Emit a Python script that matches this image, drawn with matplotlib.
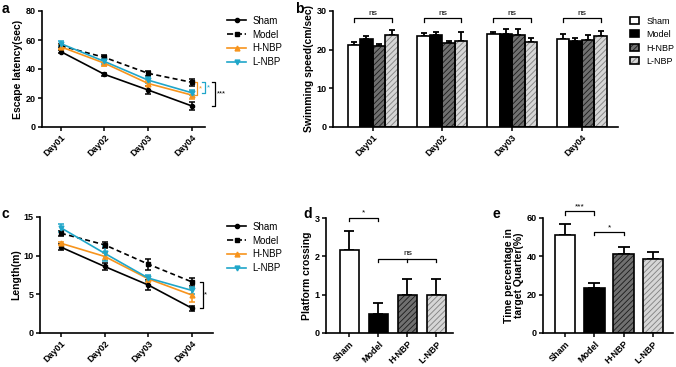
#!/usr/bin/env python3

import matplotlib

matplotlib.use("Agg")
import matplotlib.pyplot as plt
import numpy as np
from matplotlib.lines import Line2D
from matplotlib.patches import Patch

groups = ["Sham", "Model", "H-NBP", "L-NBP"]
days = ["Day01", "Day02", "Day03", "Day04"]

# a: escape latency (sec)
lat_mean = {
    "Sham": [52.0, 36.3, 25.5, 14.5],
    "Model": [56.0, 48.0, 37.0, 30.8],
    "H-NBP": [55.3, 44.0, 30.0, 22.0],
    "L-NBP": [57.5, 45.2, 32.3, 23.6],
}
lat_err = {
    "Sham": [1.2, 1.2, 2.8, 2.5],
    "Model": [1.0, 1.5, 1.8, 2.2],
    "H-NBP": [1.5, 2.0, 2.0, 2.5],
    "L-NBP": [1.5, 2.0, 2.0, 1.8],
}

# b: swimming speed (cm/sec)
speed_mean = {
    "Sham": [21.3, 23.6, 24.0, 22.7],
    "Model": [22.8, 23.9, 24.0, 22.2],
    "H-NBP": [21.0, 21.7, 23.8, 22.5],
    "L-NBP": [23.8, 22.3, 21.9, 23.6],
}
speed_err = {
    "Sham": [0.8, 0.6, 0.6, 1.4],
    "Model": [0.8, 0.7, 1.3, 0.8],
    "H-NBP": [0.4, 0.5, 1.5, 1.2],
    "L-NBP": [1.2, 2.2, 1.0, 1.2],
}

# c: path length (m)
len_mean = {
    "Sham": [11.1, 8.6, 6.2, 3.2],
    "Model": [12.9, 11.4, 8.9, 6.6],
    "H-NBP": [11.6, 9.9, 7.0, 4.9],
    "L-NBP": [13.6, 10.3, 7.1, 5.5],
}
len_err = {
    "Sham": [0.4, 0.4, 0.7, 0.35],
    "Model": [0.3, 0.4, 0.7, 0.5],
    "H-NBP": [0.2, 0.5, 0.4, 0.9],
    "L-NBP": [0.5, 1.0, 0.4, 0.5],
}

# d: platform crossing
cross_mean = [2.17, 0.5, 1.0, 1.0]
cross_err = [0.48, 0.27, 0.42, 0.42]

# e: time in target quarter (%)
quarter_mean = [51.0, 23.3, 41.2, 38.6]
quarter_err = [5.9, 2.8, 3.7, 3.7]

line_style = {
    "Sham": dict(color="black", ls="-", marker="o", ms=3),
    "Model": dict(color="black", ls="--", marker="s", ms=3),
    "H-NBP": dict(color="#f7941d", ls="-", marker="^", ms=3.5),
    "L-NBP": dict(color="#1fa6c9", ls="-", marker="v", ms=3.5),
}
bar_style = {
    "Sham": dict(face="white", hatch=None, hcol=None),
    "Model": dict(face="black", hatch=None, hcol=None),
    "H-NBP": dict(face="#707070", hatch="//////", hcol="#1a1a1a"),
    "L-NBP": dict(face="#d6d6d6", hatch="//////", hcol="#808080"),
}

W, H = 676, 367
FONT = ["Liberation Sans", "DejaVu Sans"]


def px_axes(fig, left, right, top, bottom):
    return fig.add_axes([left / W, 1 - bottom / H, (right - left) / W, (bottom - top) / H])


def style_axes(ax):
    for s in ["top", "right"]:
        ax.spines[s].set_visible(False)
    for s in ["left", "bottom"]:
        ax.spines[s].set_linewidth(1.2)
    ax.tick_params(width=1.1, length=3, labelsize=6.5, pad=1.5)
    for lab in ax.get_yticklabels() + ax.get_xticklabels():
        lab.set_fontweight("bold")


def draw_bar(ax, x, h, err, width, name, cap):
    st = bar_style[name]
    if st["hatch"]:
        ax.bar(x, h, width, color=st["face"], hatch=st["hatch"], edgecolor=st["hcol"], lw=0, zorder=2)
        ax.bar(x, h, width, fill=False, edgecolor="black", lw=1.2, zorder=3)
    else:
        ax.bar(x, h, width, color=st["face"], edgecolor="black", lw=1.2, zorder=3)
    ax.errorbar(x, h, yerr=[[0], [err]], fmt="none", ecolor="black", elinewidth=1.3,
                capsize=cap, capthick=1.3, zorder=1)


def bracket(ax, x1, x2, y, drop, text, color="black", mids=(), fs=6):
    ax.plot([x1, x1, x2, x2], [y - drop, y, y, y - drop], color=color, lw=0.9, clip_on=False)
    for m in mids:
        ax.plot([m, m], [y, y - drop], color=color, lw=0.9, clip_on=False)
    ax.text((x1 + x2) / 2, y + drop * 0.4, text, ha="center", va="bottom", fontsize=fs,
            color=color, clip_on=False)


def vbracket(ax, x, y1, y2, w, text, color="black"):
    ax.plot([x - w, x, x, x - w], [y1, y1, y2, y2], color=color, lw=0.9, clip_on=False)
    ax.text(x + w * 0.6, (y1 + y2) / 2, text, ha="left", va="center", fontsize=5.5,
            color=color, clip_on=False)


def line_panel(ax, means, errs, ylim, yticks, ylabel):
    x = np.arange(len(days))
    for name in groups:
        st = line_style[name]
        ax.errorbar(x, means[name], yerr=errs[name], color=st["color"], ls=st["ls"],
                    marker=st["marker"], ms=st["ms"], lw=1.2, elinewidth=1.1,
                    capsize=2.5, capthick=1.1, dashes=(3, 2) if st["ls"] == "--" else (None, None))
    ax.set_ylim(*ylim)
    ax.set_yticks(yticks)
    ax.set_xticks(x)
    ax.set_xticklabels(days, rotation=45, ha="right", rotation_mode="anchor")
    ax.set_ylabel(ylabel, fontsize=7.5, fontweight="bold", labelpad=2)
    style_axes(ax)


def main():
    plt.rcParams["font.family"] = FONT
    plt.rcParams["hatch.linewidth"] = 0.6
    fig = plt.figure(figsize=(W / 100, H / 100), dpi=100)

    # --- a
    ax = px_axes(fig, 42, 205, 11, 127)
    line_panel(ax, lat_mean, lat_err, (0, 80), [0, 20, 40, 60, 80], "Escape latency(sec)")
    ax.set_xlim(-0.43, 3.3)
    vbracket(ax, 3.12, lat_mean["Model"][3], lat_mean["H-NBP"][3], 0.06, "*", "#f7941d")
    vbracket(ax, 3.3, lat_mean["Model"][3], lat_mean["L-NBP"][3], 0.06, "*", "#1fa6c9")
    vbracket(ax, 3.53, lat_mean["Model"][3], lat_mean["Sham"][3], 0.06, "***", "black")
    handles = [Line2D([], [], color=line_style[n]["color"], ls=line_style[n]["ls"],
                      marker=line_style[n]["marker"], ms=line_style[n]["ms"], lw=1.2) for n in groups]
    fig.legend(handles, groups, loc="upper left", bbox_to_anchor=(222 / W, 1 - 11 / H),
               frameon=False, fontsize=7, handlelength=2.0, handletextpad=0.6,
               labelspacing=0.38, borderpad=0)

    # --- b
    ax = px_axes(fig, 333, 618, 11, 127)
    x = np.arange(len(days))
    bw = 0.18
    for i, name in enumerate(groups):
        for j in range(len(days)):
            draw_bar(ax, x[j] + (i - 1.5) * bw, speed_mean[name][j], speed_err[name][j], bw, name, 2.5)
    for j in range(len(days)):
        bracket(ax, x[j] - 1.5 * bw, x[j] + 1.5 * bw, 28.1, 0.9, "ns", fs=6)
    ax.set_xlim(-0.57, 3.52)
    ax.set_ylim(0, 30)
    ax.set_yticks([0, 10, 20, 30])
    ax.set_xticks(x)
    ax.set_xticklabels(days, rotation=45, ha="right", rotation_mode="anchor")
    ax.set_ylabel("Swimming speed(cm/sec)", fontsize=7.5, fontweight="bold", labelpad=2)
    style_axes(ax)
    bh = []
    for n in groups:
        st = bar_style[n]
        if st["hatch"]:
            bh.append((Patch(facecolor=st["face"], hatch=st["hatch"], edgecolor=st["hcol"], lw=0),
                       Patch(fill=False, edgecolor="black", lw=1.2)))
        else:
            bh.append(Patch(facecolor=st["face"], edgecolor="black", lw=1.2))
    fig.legend(bh, groups, loc="upper left", bbox_to_anchor=(625 / W, 1 - 12 / H),
               frameon=False, fontsize=6.5, handlelength=1.1, handleheight=0.8,
               handletextpad=0.8, labelspacing=0.5, borderpad=0)

    # --- c
    ax = px_axes(fig, 40, 213, 217, 333)
    line_panel(ax, len_mean, len_err, (0, 15), [0, 5, 10, 15], "Length(m)")
    ax.set_xlim(-0.48, 3.48)
    vbracket(ax, 3.24, len_mean["Model"][3], len_mean["Sham"][3], 0.06, "*", "black")
    fig.legend(handles, groups, loc="upper left", bbox_to_anchor=(222 / W, 1 - 217 / H),
               frameon=False, fontsize=7, handlelength=2.0, handletextpad=0.6,
               labelspacing=0.38, borderpad=0)

    # --- d
    ax = px_axes(fig, 326, 453, 218, 333)
    xg = np.arange(len(groups))
    for i, name in enumerate(groups):
        draw_bar(ax, xg[i], cross_mean[i], cross_err[i], 0.66, name, 3.5)
    bracket(ax, 0, 1, 3.0, 0.09, "*")
    bracket(ax, 1, 3, 1.94, 0.08, "ns", mids=(2,))
    ax.set_xlim(-0.81, 3.57)
    ax.set_ylim(0, 3)
    ax.set_yticks([0, 1, 2, 3])
    ax.set_xticks(xg)
    ax.set_xticklabels(groups, rotation=45, ha="right", rotation_mode="anchor")
    ax.set_ylabel("Platform crossing", fontsize=7.5, fontweight="bold", labelpad=2)
    style_axes(ax)

    # --- e
    ax = px_axes(fig, 543, 673, 218, 333)
    for i, name in enumerate(groups):
        draw_bar(ax, xg[i], quarter_mean[i], quarter_err[i], 0.7, name, 4)
    bracket(ax, 0, 1, 63.5, 1.8, "***")
    bracket(ax, 1, 2, 52.5, 1.6, "*")
    ax.set_xlim(-0.75, 3.68)
    ax.set_ylim(0, 60)
    ax.set_yticks([0, 20, 40, 60])
    ax.set_xticks(xg)
    ax.set_xticklabels(groups, rotation=45, ha="right", rotation_mode="anchor")
    ax.set_ylabel("Time percentage in\ntarget Quarter(%)", fontsize=7.5, fontweight="bold",
                  labelpad=2, linespacing=1.0)
    style_axes(ax)

    # panel letters
    for (px, py, t) in [(2, 9, "a"), (295, 9, "b"), (2, 214, "c"), (303, 214, "d"), (492, 214, "e")]:
        fig.text(px / W, 1 - py / H, t, fontsize=10, fontweight="bold", va="center", ha="left")

    fig.savefig("out.png", dpi=100)
    plt.close(fig)


if __name__ == "__main__":
    main()
